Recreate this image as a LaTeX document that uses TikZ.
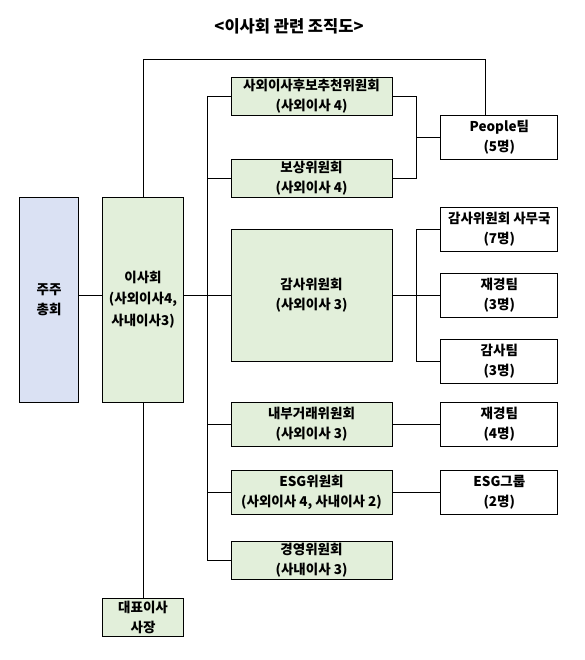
\documentclass[tikz,border=0pt]{standalone}
\usepackage{fontspec}
\setmainfont{Noto Sans CJK KR}
\definecolor{boardgreen}{HTML}{E2EFDA}
\definecolor{meetblue}{HTML}{DAE1F3}

\begin{document}
\begin{tikzpicture}[x=1pt, y=-1pt,
  box/.style={draw, line width=0.9pt, align=center, inner sep=0pt,
    font=\fontsize{13.5}{20}\selectfont\bfseries},
  cmtbox/.style={box, fill=boardgreen, minimum width=161pt},
  teambox/.style={box, fill=white, minimum width=117pt, minimum height=44pt},
  link/.style={line width=0.7pt}]

\useasboundingbox (0,0) rectangle (585,660);

% Title
\node[font=\fontsize{16.5}{18}\selectfont\bfseries] (title) at (289,26) {<이사회 관련 조직도>};

% Shareholders and board
\node[box, fill=meetblue, minimum width=59pt, minimum height=205pt] (meeting) at (49,299.5) {주주\\총회};
\node[box, fill=boardgreen, minimum width=81pt, minimum height=205pt,
  font=\fontsize{13.5}{21.5}\selectfont\bfseries] (board) at (143,299.5) {이사회\\(사외이사4,\\사내이사3)};
\node[box, fill=boardgreen, minimum width=81pt, minimum height=38pt] (ceo) at (143,617.5) {대표이사\\사장};

% Committees
\node[cmtbox, minimum height=38pt] (nominate) at (311.5,96) {사외이사후보추천위원회\\(사외이사 4)};
\node[cmtbox, minimum height=38pt] (reward) at (311.5,178) {보상위원회\\(사외이사 4)};
\node[cmtbox, minimum height=132pt] (audit) at (311.5,295.3) {감사위원회\\(사외이사 3)};
\node[cmtbox, minimum height=44pt] (internal) at (311.5,424.3) {내부거래위원회\\(사외이사 3)};
\node[cmtbox, minimum height=44pt] (esg) at (311.5,492.3) {ESG위원회\\(사외이사 4, 사내이사 2)};
\node[cmtbox, minimum height=38pt] (manage) at (311.5,560.3) {경영위원회\\(사내이사 3)};

% Teams
\node[teambox] (people) at (499.3,137) {People팀\\(5명)};
\node[teambox] (office) at (499.3,229.3) {감사위원회 사무국\\(7명)};
\node[teambox] (finance) at (499.3,295.3) {재경팀\\(3명)};
\node[teambox] (auditteam) at (499.3,361.5) {감사팀\\(3명)};
\node[teambox] (finance2) at (499.3,424.3) {재경팀\\(4명)};
\node[teambox] (esgteam) at (499.3,492.3) {ESG그룹\\(2명)};

% Junctions
\coordinate (bus) at (207,0);
\coordinate (fork) at (416,0);
\coordinate (loop) at (485,59);

% Board lines
\draw[link] (meeting.east |- audit) -- (board.west |- audit);
\draw[link] (board.east |- audit) -- (audit.west);
\draw[link] (board.south) -- (ceo.north);
\draw[link] (board.north) |- (loop) -- (loop |- people.north);

% Committee bus
\draw[link] (bus |- nominate) -- (bus |- manage);
\foreach \c in {nominate, reward, internal, esg, manage}
  \draw[link] (bus |- \c) -- (\c.west);

% Committee to team lines
\draw[link] (nominate.east) -| (fork |- reward) -- (reward.east);
\draw[link] (fork |- people) -- (people.west);
\draw[link] (office.west) -| (fork |- auditteam) -- (auditteam.west);
\draw[link] (audit.east) -- (finance.west);
\draw[link] (internal) -- (finance2);
\draw[link] (esg) -- (esgteam);

\end{tikzpicture}
\end{document}
